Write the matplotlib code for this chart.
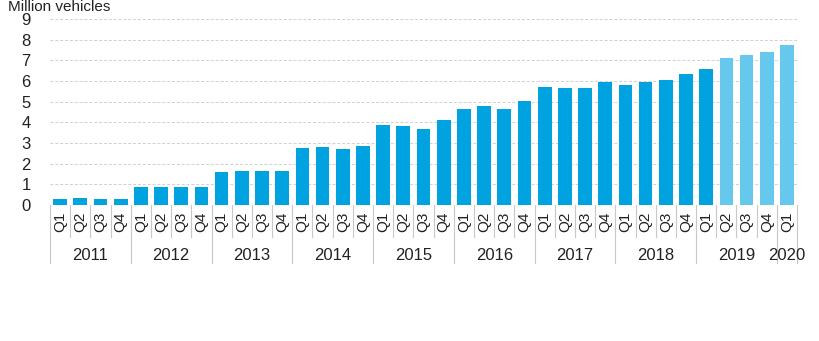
import matplotlib
matplotlib.use('Agg')
import matplotlib.pyplot as plt
from matplotlib.transforms import blended_transform_factory

plt.rcParams['font.family'] = ['Liberation Sans', 'DejaVu Sans']

# data
quarters = ['Q1', 'Q2', 'Q3', 'Q4'] * 9 + ['Q1']
years = ['2011', '2012', '2013', '2014', '2015', '2016', '2017', '2018', '2019', '2020']
year_sizes = [4, 4, 4, 4, 4, 4, 4, 4, 4, 1]
values = [0.31, 0.34, 0.31, 0.31,
          0.87, 0.87, 0.87, 0.87,
          1.60, 1.66, 1.63, 1.63,
          2.77, 2.81, 2.71, 2.85,
          3.85, 3.82, 3.68, 4.10,
          4.65, 4.79, 4.65, 5.03,
          5.71, 5.65, 5.68, 5.97,
          5.82, 5.97, 6.03, 6.34,
          6.58, 7.13, 7.27, 7.39,
          7.76]
n_dark = 33  # up to 2019 Q1, rest lighter

dark = '#00a3e0'
light = '#66c8ec'
colors = [dark if i < n_dark else light for i in range(len(values))]

fig = plt.figure(figsize=(8.2, 3.41), dpi=100)
ax = fig.add_axes([0.061, 0.399, 0.911, 0.545])

x = list(range(len(values)))
ax.bar(x, values, width=0.68, color=colors, zorder=2)

ax.set_xlim(-0.5, len(values) - 0.5)
ax.set_ylim(0, 9)
ax.set_yticks(range(10))
ax.tick_params(axis='y', length=0, pad=14, labelsize=12, colors='#222222')
ax.set_xticks([])
for s in ax.spines.values():
    s.set_visible(False)
ax.yaxis.grid(True, color='#d0d0d0', linewidth=0.7, linestyle=(0, (3, 2)), zorder=0)

trans = blended_transform_factory(ax.transData, ax.transAxes)

# quarter labels
for i, q in enumerate(quarters):
    ax.text(i, -0.09, q, rotation=90, ha='center', va='center',
            fontsize=11, color='#222222', transform=trans)

# separators and year labels
bounds = [-0.5]
for sz in year_sizes:
    bounds.append(bounds[-1] + sz)
year_edges = set(bounds)
for i in range(len(values) + 1):
    xs = i - 0.5
    bottom = -0.31 if xs in year_edges else -0.172
    ax.plot([xs, xs], [0, bottom], color='#c8c8c8', linewidth=0.8,
            transform=trans, clip_on=False)
for k, yr in enumerate(years):
    cx = (bounds[k] + bounds[k + 1]) / 2
    ax.text(cx, -0.27, yr, ha='center', va='center', fontsize=12,
            color='#222222', transform=trans)

fig.text(0.01, 1 - 11 / 341, 'Million vehicles', fontsize=11, color='#222222', va='baseline')

fig.savefig('out.png', dpi=100)
